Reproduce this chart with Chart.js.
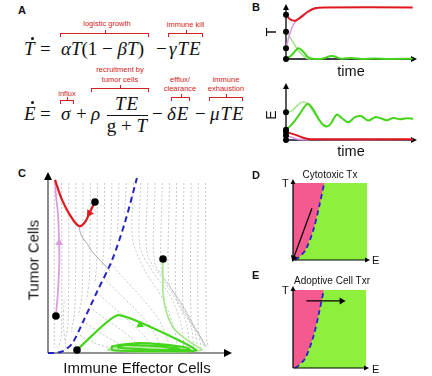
<!DOCTYPE html>
<html><head><meta charset="utf-8">
<script src="https://cdn.jsdelivr.net/npm/chart.js@4.4.0/dist/chart.umd.min.js"></script>
<style>
html,body{margin:0;padding:0;background:#fff;width:432px;height:376px;overflow:hidden;position:relative;font-family:"Liberation Sans",Arial,sans-serif;color:#111}
canvas{position:absolute}
.t{position:absolute;white-space:nowrap;line-height:1}
.eq{font-family:"Liberation Serif","Times New Roman",serif}
.wide{letter-spacing:1px}
.red{color:#d42020}
.b{font-weight:bold}
.br{position:absolute;border:1.3px solid #d42020;border-bottom:none;height:4px;box-sizing:border-box}
.br:after{content:"";position:absolute;left:50%;top:-4px;height:3px;border-left:1.3px solid #d42020}
.dot{position:absolute;width:3px;height:3px;border-radius:50%;background:#111}
</style></head><body>
<script>
// ---- panel B: time courses (time 0-100) ----
const bTopRed = [[0,8.15],[3,7.4],[7,7.1],[12,7.8],[17,8.75],[22.5,9.4],[30,9.55],[99,9.55]];
const bTopPink = [[0,1.98],[3.1,4.76],[5.7,6.3],[9.6,7.5],[14.8,8.46],[20,9.07],[24,9.39]];
const bTopLight = [[0,5.06],[4.5,3.5],[8.4,1.98],[12.3,0.87],[16.2,0.13],[20,0]];
const bTopGreen = [[0,0],[4.5,0.74],[9.6,1.98],[13.5,1.35],[17.4,0.3],[21,0.05],[28,0.05],[35.7,0.55],[43.5,0.05],[51,0.2],[59,0.02],[69,0.1],[80,0.02],[99,0.05]];
const bTopStarts = [8.2, 5.06, 1.98, 0];

const bBotLight = [[0,5.06],[4.4,5.25],[9.6,6.45],[13.5,6.95],[17.4,6.45],[22.7,4.63],[27.9,3.1],[31.8,2.5]];
const bBotGreen = [[0,1.88],[4.4,2.8],[9.6,4.33],[14.8,6.16],[17.4,6.58],[21.3,5.54],[26.6,3.42],[30.5,2.5],[34.4,2.8],[39.6,4.63],[43.5,4.0],[48.7,3.23],[53.9,4.15],[59,4.33],[64.3,3.53],[69.5,4.15],[73.4,4.0],[78.7,3.6],[83.8,4.0],[89,3.78],[94.3,3.97],[99.4,3.84]];
const bBotRed = [[0,1.46],[7,0.97],[12.3,0.49],[17.4,0.18],[25,0.15],[99,0.15]];
const bBotPink = [[0,0.8],[5,0.45],[10,0.12],[20,0.08],[99,0.08]];
const bBotBlue = [[0,0.05],[30,0.03]];
const bBotStarts = [5.06, 1.88, 1.46, 0.8, 0];

// ---- panel C: phase plane (E 0-10, T 0-10) ----
const cRed = [[2.61,8.48],[2.33,7.92],[2.06,7.36],[1.72,7.13],[1.22,7.75],[0.78,8.6],[0.39,9.72]];
const cPink = [[0.44,2.08],[0.56,3.54],[0.63,5.22],[0.61,6.35],[0.56,7.75],[0.44,8.88],[0.39,9.72]];
const cGreen = [[1.61,0.17],[3.89,2.13],[8.22,0.17],[5.67,0.11],[3.56,0.17],[3.56,0.37],[5.0,0.56],[6.33,0.48],[7.78,0.28],[7.89,0.17],[5.11,0.22],[3.89,0.31],[4.28,0.45],[6.22,0.39],[7.33,0.22]];
const cLight = [[6.39,5.28],[6.39,3.37],[6.59,2.25],[7.06,1.29],[7.98,0.56],[8.54,0.17],[6.78,0.06],[4.56,0.08],[3.33,0.17],[3.56,0.28],[5.67,0.34],[7.61,0.22]];
const cSep = [[0,0],[0.39,0],[0.83,0.11],[1.33,0.51],[1.94,1.74],[2.72,3.43],[3.56,5.22],[4.28,7.36],[4.94,9.83]];
const cGrayPath = [[1.72,7.13],[1.85,6.6],[2.2,6.1],[2.45,5.7],[2.95,5.15],[3.45,4.6]];
const cStarts = [[2.61,8.48],[0.44,2.08],[1.61,0.17],[6.39,5.28]];
const cHeads = [[2.3,7.85,212],[0.62,6.2,0],[5.11,1.58,114]];
const fieldLines = [
  [[0.35,9.55],[0.35,0.3]],
  [[0.75,9.55],[0.75,1.2],[0.6,0.3]],
  [[1.15,9.55],[1.12,1.8],[0.95,0.6]],
  [[1.55,9.55],[1.5,2.6],[1.3,1.2]],
  [[1.95,9.55],[1.9,3.4],[1.7,2.1]],
  [[2.35,9.55],[2.3,4.2],[2.15,3.0]],
  [[2.75,9.55],[2.7,5.0],[2.6,3.9]],
  [[3.15,9.55],[3.1,5.9],[3.0,4.8]],
  [[3.55,9.55],[3.5,6.8],[3.45,5.8]],
  [[3.95,9.55],[3.9,7.7],[3.85,6.8]],
  [[4.35,9.55],[4.3,8.6],[4.25,7.8]],
  [[4.75,9.55],[4.7,6.4],[5.4,4.6],[6.4,3.0],[7.0,1.4],[7.2,0.3]],
  [[5.15,9.55],[5.1,6.0],[5.8,4.6],[6.8,3.2],[7.4,1.6],[7.55,0.3]],
  [[5.55,9.55],[5.5,5.6],[6.2,4.4],[7.1,3.0],[7.7,1.6],[7.85,0.3]],
  [[5.95,9.55],[5.9,5.2],[6.5,4.1],[7.4,2.8],[7.95,1.5],[8.1,0.3]],
  [[6.35,9.55],[6.3,4.6],[6.8,3.7],[7.6,2.5],[8.15,1.3],[8.3,0.3]],
  [[6.75,9.55],[6.7,4.0],[7.1,3.2],[7.8,2.1],[8.35,1.1],[8.5,0.3]],
  [[7.15,9.55],[7.1,3.2],[7.45,2.5],[8.05,1.6],[8.55,0.8],[8.65,0.3]],
  [[7.55,9.55],[7.5,2.4],[7.85,1.8],[8.4,1.0],[8.75,0.3]],
  [[7.95,9.55],[7.95,1.8],[8.25,1.2],[8.8,0.35]],
  [[8.35,9.55],[8.35,1.2],[8.6,0.7],[8.85,0.3]],
  [[8.75,9.55],[8.8,1.0],[8.9,0.3]],
  [[3.5,5.0],[4.3,4.1],[5.3,3.0],[6.2,1.8],[6.8,0.3]],
  [[3.1,4.2],[4.0,3.3],[5.0,2.3],[5.8,1.3],[6.3,0.3]],
  [[2.7,3.4],[3.6,2.6],[4.6,1.7],[5.4,0.9],[5.8,0.25]],
  [[2.3,2.6],[3.2,1.9],[4.2,1.2],[5.0,0.5],[5.3,0.2]],
  [[1.95,1.8],[2.8,1.2],[3.8,0.6],[4.7,0.2]],
  [[1.6,1.1],[2.5,0.6],[3.6,0.25],[4.2,0.12]],
  [[1.0,0.3],[0.85,1.6],[0.9,3.0]]
];

// ---- panels D/E: basins ----
const boxE = [0,10], boxT = [0,10];
const sepE = [0.3,0.75,1.7,2.75,3.55,4.22];
const sepT = [0,0.3,1.3,3.9,7.0,10];
const dArrow = [[2.56,6.73],[0.08,0.26]];
const eArrow = [[1.84,8.6],[6.66,8.6]];

// ---- helpers ----
const pts = a => a.map(p => ({x:p[0], y:p[1]}));
function line(a, color, w, extra) {
  return Object.assign({data: pts(a), borderColor: color, borderWidth: w, pointRadius: 0, tension: 0.35, fill: false, clip: false}, extra || {});
}
function dots(a, r, color) {
  return {data: pts(a), showLine: false, pointRadius: r, pointBackgroundColor: color, pointBorderWidth: 0, clip: false};
}
function head(p, rot, color, r) {
  return {data: pts([p]), showLine: false, pointStyle: 'triangle', rotation: rot, pointRadius: r,
    pointBackgroundColor: color, pointBorderColor: color, pointBorderWidth: 0, clip: false};
}
function axes(o) {
  const hook = o.after ? 'afterDatasetsDraw' : 'beforeDatasetsDraw';
  return {id: 'axes', [hook](chart) {
    const {ctx, chartArea: a} = chart;
    const ty = a.top - o.ey, tx = a.right + o.ex;
    ctx.save();
    ctx.strokeStyle = o.color; ctx.lineWidth = o.lw;
    ctx.beginPath();
    ctx.moveTo(a.left, a.bottom); ctx.lineTo(a.left, ty + o.hl);
    ctx.moveTo(a.left, a.bottom); ctx.lineTo(tx - o.hl, a.bottom);
    ctx.stroke();
    ctx.fillStyle = o.head;
    ctx.beginPath(); ctx.moveTo(a.left, ty); ctx.lineTo(a.left - o.hw, ty + o.hl); ctx.lineTo(a.left + o.hw, ty + o.hl); ctx.fill();
    ctx.beginPath(); ctx.moveTo(tx, a.bottom); ctx.lineTo(tx - o.hl, a.bottom - o.hw); ctx.lineTo(tx - o.hl, a.bottom + o.hw); ctx.fill();
    ctx.restore();
  }};
}
function panel(left, top, w, h, pad, xr, yr, bottomToTop, plugins) {
  const c = document.createElement('canvas');
  c.width = w; c.height = h;
  c.style.left = left + 'px'; c.style.top = top + 'px';
  c.style.width = w + 'px'; c.style.height = h + 'px';
  document.body.appendChild(c);
  return new Chart(c, {
    type: 'line',
    data: {datasets: bottomToTop.slice().reverse()},
    options: {
      responsive: false, animation: false, devicePixelRatio: 1, events: [],
      layout: {padding: pad},
      scales: {
        x: {type: 'linear', display: false, min: xr[0], max: xr[1]},
        y: {type: 'linear', display: false, min: yr[0], max: yr[1]}
      },
      plugins: {legend: {display: false}, tooltip: {enabled: false}}
    },
    plugins: plugins
  });
}
function txt(x, base, s, o) {
  o = o || {};
  const fs = o.fs || 12;
  const d = document.createElement('div');
  d.className = 't ' + (o.cls || '');
  d.style.fontSize = fs + 'px';
  d.innerHTML = s;
  if (o.rot) {
    d.style.left = x + 'px'; d.style.top = base + 'px';
    d.style.transform = 'translate(-50%,-50%) rotate(-90deg)';
  } else {
    d.style.left = x + 'px'; d.style.top = (base - 0.84 * fs) + 'px';
    if (o.center) d.style.transform = 'translateX(-50%)';
  }
  document.body.appendChild(d);
}
function bracket(x1, x2, y) {
  const d = document.createElement('div');
  d.className = 'br';
  d.style.left = x1 + 'px'; d.style.top = y + 'px'; d.style.width = (x2 - x1) + 'px';
  document.body.appendChild(d);
}
function accent(x, y) {
  const d = document.createElement('div');
  d.className = 'dot'; d.style.left = x + 'px'; d.style.top = y + 'px';
  document.body.appendChild(d);
}

const RED = '#e0181e', PINK = '#dc9ce0', GREEN = '#45d41c', LIGHT = '#a4e68c', BLUE = '#2424c4';

// ---- panel B top ----
panel(268, 0, 160, 66, {left: 18, right: 14, top: 5, bottom: 7}, [0, 100], [0, 10], [
  line(bTopLight, LIGHT, 1.6),
  line(bTopPink, PINK, 1.6),
  line(bTopGreen, GREEN, 2),
  line(bTopRed, RED, 2),
  dots(bTopStarts.map(v => [0, v]), 3, '#000')
], [axes({color: '#000', head: '#000', lw: 1.3, hl: 6, hw: 3, ey: 1, ex: 3})]);

// ---- panel B bottom ----
panel(268, 78, 160, 68, {left: 18, right: 14, top: 7, bottom: 6}, [0, 100], [0, 10], [
  line(bBotBlue, '#5a4aa8', 1),
  line(bBotPink, PINK, 1.6),
  line(bBotRed, RED, 2),
  line(bBotLight, LIGHT, 1.6),
  line(bBotGreen, GREEN, 2),
  dots(bBotStarts.map(v => [0, v]), 3, '#000')
], [axes({color: '#000', head: '#000', lw: 1.3, hl: 6, hw: 3, ey: 2, ex: 3})]);

// ---- panel C ----
const field = fieldLines.map(l => line(l, 'rgba(160,160,160,0.75)', 0.8, {borderDash: [2, 2], tension: 0.3}));
panel(40, 165, 200, 195, {left: 8, right: 12, top: 10, bottom: 7}, [0, 10], [0, 10], [
  ...field,
  line(cGrayPath, 'rgba(150,150,150,0.9)', 0.9),
  line(cSep, BLUE, 2, {borderDash: [6, 4], tension: 0.3}),
  line(cLight, LIGHT, 1.6, {tension: 0.25}),
  line(cGreen, GREEN, 2.2, {tension: 0.15}),
  line(cPink, PINK, 1.8),
  line(cRed, RED, 2.2),
  head([cHeads[0][0], cHeads[0][1]], cHeads[0][2], RED, 4.5),
  head([cHeads[1][0], cHeads[1][1]], cHeads[1][2], PINK, 4.5),
  head([cHeads[2][0], cHeads[2][1]], cHeads[2][2], GREEN, 4.5),
  dots(cStarts, 3.8, '#000')
], [axes({color: '#6e6e6e', head: '#000', lw: 1.6, hl: 8, hw: 4, ey: 3, ex: 4})]);

// ---- panels D and E ----
const boxPoly = [[boxE[0], boxT[0]], [boxE[1], boxT[0]], [boxE[1], boxT[1]], [boxE[0], boxT[1]], [boxE[0], boxT[0]]];
const sepLine = sepE.map((e, i) => [e, sepT[i]]);
const pinkPoly = [[boxE[0], boxT[0]], ...sepLine, [boxE[0], boxT[1]], [boxE[0], boxT[0]]];
function basin(top, h, pad, arrow, rot) {
  panel(285, top, 95, h, pad, boxE, boxT, [
    line(boxPoly, 'rgba(0,0,0,0)', 0, {fill: 'shape', backgroundColor: '#8cf03c', tension: 0}),
    line(pinkPoly, 'rgba(0,0,0,0)', 0, {fill: 'shape', backgroundColor: '#f4598f', tension: 0}),
    line(sepLine, BLUE, 1.8, {borderDash: [5, 3.5], tension: 0.3}),
    line(arrow, '#000', 1.2, {tension: 0}),
    head(arrow[1], rot, '#000', 4)
  ], [axes({after: true, color: '#000', head: '#000', lw: 1.2, hl: 5, hw: 2.5, ey: 4, ex: 3})]);
}
basin(172, 95, {left: 8, right: 13, top: 11, bottom: 7}, dArrow, 200);
basin(282, 94, {left: 8, right: 14, top: 8, bottom: 8}, eArrow, 90);

// ---- panel A: equations ----
txt(18, 14, 'A', {cls: 'b', fs: 11});
txt(24, 55, '<i>T</i>', {cls: 'eq', fs: 19}); accent(30.5, 37);
txt(40, 55, '=', {cls: 'eq', fs: 19});
txt(61, 55, '<i>αT</i>(1 − <i>βT</i>)', {cls: 'eq', fs: 19});
txt(156, 55, '−', {cls: 'eq', fs: 19});
txt(169, 55, '<i>γTE</i>', {cls: 'eq wide', fs: 19});
txt(24, 120, '<i>E</i>', {cls: 'eq', fs: 19}); accent(31, 101);
txt(40, 120, '=', {cls: 'eq', fs: 19});
txt(61, 120, '<i>σ</i>', {cls: 'eq', fs: 19});
txt(76, 120, '+', {cls: 'eq', fs: 19});
txt(91, 120, '<i>ρ</i>', {cls: 'eq', fs: 19});
txt(127, 110, '<i>TE</i>', {cls: 'eq wide', fs: 19, center: true});
(function(){ const d = document.createElement('div'); d.style.cssText = 'position:absolute;left:107px;top:114.5px;width:41px;height:1.2px;background:#111'; document.body.appendChild(d); })();
txt(127, 132, 'g + <i>T</i>', {cls: 'eq', fs: 19, center: true});
txt(152, 120, '−', {cls: 'eq', fs: 19});
txt(167, 120, '<i>δE</i>', {cls: 'eq wide', fs: 19});
txt(195, 120, '−', {cls: 'eq', fs: 19});
txt(210, 120, '<i>μTE</i>', {cls: 'eq wide', fs: 19});

txt(107, 26, 'logistic growth', {cls: 'red', fs: 7.5, center: true}); bracket(60, 149, 33);
txt(185.5, 27, 'immune kill', {cls: 'red', fs: 7.5, center: true}); bracket(168, 203, 33);
txt(67, 96, 'influx', {cls: 'red', fs: 7.5, center: true}); bracket(60, 74, 100);
txt(120, 72.5, 'recruitment by', {cls: 'red', fs: 7.5, center: true});
txt(120, 82.5, 'tumor cells', {cls: 'red', fs: 7.5, center: true}); bracket(91, 149, 88);
txt(180, 82, 'efflux/', {cls: 'red', fs: 7.5, center: true});
txt(180, 91.5, 'clearance', {cls: 'red', fs: 7.5, center: true}); bracket(171, 190, 97);
txt(226, 82, 'immune', {cls: 'red', fs: 7.5, center: true});
txt(226, 91.5, 'exhaustion', {cls: 'red', fs: 7.5, center: true}); bracket(209, 243, 97);

// ---- labels ----
txt(252, 11.5, 'B', {cls: 'b', fs: 11});
txt(271, 31.5, 'T', {fs: 14, rot: true});
txt(351, 76, 'time', {fs: 14.5, center: true});
txt(271, 115, 'E', {fs: 14, rot: true});
txt(351, 156.5, 'time', {fs: 14.5, center: true});
txt(18, 177, 'C', {cls: 'b', fs: 11});
txt(33, 260, 'Tumor Cells', {fs: 15, rot: true});
txt(137, 373, 'Immune Effector Cells', {fs: 15, center: true});
txt(252, 179.5, 'D', {cls: 'b', fs: 11});
txt(330, 178, 'Cytotoxic Tx', {fs: 10, center: true});
txt(282, 187, 'T', {fs: 11});
txt(372, 264, 'E', {fs: 11});
txt(252, 279, 'E', {cls: 'b', fs: 11});
txt(332, 284, 'Adoptive Cell Txr', {fs: 10, center: true});
txt(282, 294, 'T', {fs: 11});
txt(372, 373, 'E', {fs: 11});
</script>
</body></html>
